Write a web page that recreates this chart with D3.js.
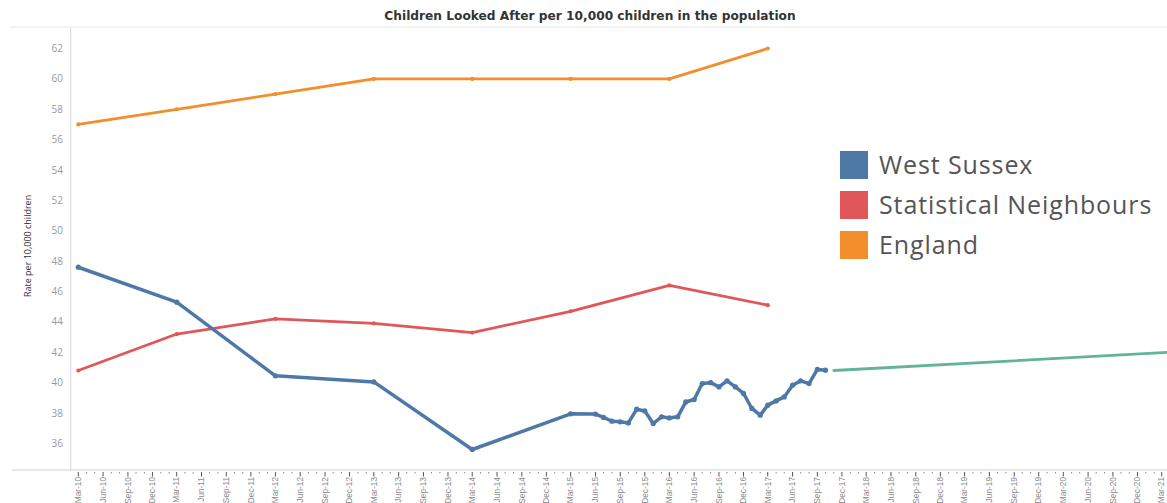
<!DOCTYPE html>
<html>
<head>
<meta charset="utf-8">
<script src="https://cdn.jsdelivr.net/npm/d3@7"></script>
<style>
  html, body { margin: 0; padding: 0; background: #fff; }
  svg { display: block; }
</style>
</head>
<body>
<svg id="chart" width="1167" height="503"></svg>
<script>
// Annual series (March of each year)
const annualDates = ["2010-03", "2011-03", "2012-03", "2013-03", "2014-03", "2015-03", "2016-03", "2017-03"];
const englandValues = [57, 58, 59, 60, 60, 60, 60, 62];
const neighbourValues = [40.8, 43.2, 44.2, 43.9, 43.3, 44.7, 46.4, 45.1];

// West Sussex: annual to 2015, monthly afterwards
const westSussexDates = [
  "2010-03", "2011-03", "2012-03", "2013-03", "2014-03", "2015-03",
  "2015-06", "2015-07", "2015-08", "2015-09", "2015-10", "2015-11", "2015-12",
  "2016-01", "2016-02", "2016-03", "2016-04", "2016-05", "2016-06",
  "2016-07", "2016-08", "2016-09", "2016-10", "2016-11", "2016-12",
  "2017-01", "2017-02", "2017-03", "2017-04", "2017-05", "2017-06",
  "2017-07", "2017-08", "2017-09", "2017-10"
];
const westSussexValues = [
  47.6, 45.3, 40.45, 40.05, 35.6, 37.95,
  37.93, 37.71, 37.46, 37.42, 37.35, 38.25, 38.14,
  37.31, 37.75, 37.68, 37.75, 38.73, 38.89,
  39.94, 40.0, 39.72, 40.12, 39.72, 39.29,
  38.3, 37.86, 38.52, 38.8, 39.06, 39.83,
  40.12, 39.94, 40.87, 40.82
];

// Trend projection
const trendDates = ["2017-11", "2021-04"];
const trendValues = [40.8, 42.0];

const legendLabels = ["West Sussex", "Statistical Neighbours", "England"];
const legendColors = ["#4e79a7", "#e15759", "#f28e2b"];
const trendColor = "#62b39c";
const yTickValues = [36, 38, 40, 42, 44, 46, 48, 50, 52, 54, 56, 58, 60, 62];

const titleText = "Children Looked After per 10,000 children in the population";
const yAxisTitle = "Rate per 10,000 children";

const parse = d3.utcParse("%Y-%m");
const fmt = d3.utcFormat("%b-%y");
const svg = d3.select("#chart");
const W = 1167, H = 503;

const x = d3.scaleUtc()
  .domain([parse("2010-03"), parse("2021-03")])
  .range([78.3, 1161.7]);
const y = d3.scaleLinear()
  .domain([34.25, 63.35])
  .range([470, 28]);

const axisLeftX = 70.7;
const axisBaseY = y.range()[0];

// Title and header rule
svg.append("text")
  .attr("x", 590).attr("y", 20)
  .attr("text-anchor", "middle")
  .style("font-family", "'DejaVu Sans', sans-serif")
  .style("font-weight", "700")
  .style("font-size", "12.2px")
  .style("fill", "#333")
  .text(titleText);
svg.append("line")
  .attr("x1", 10).attr("x2", W)
  .attr("y1", 27).attr("y2", 27)
  .style("stroke", "#e6e6e6").style("stroke-width", 1);

// Y axis
svg.append("line")
  .attr("x1", axisLeftX).attr("x2", axisLeftX)
  .attr("y1", y.range()[1]).attr("y2", axisBaseY)
  .style("stroke", "#d9d9d9");
svg.append("g").selectAll("text")
  .data(yTickValues)
  .join("text")
  .attr("x", 63).attr("y", d => y(d))
  .attr("dy", "0.35em")
  .attr("text-anchor", "end")
  .style("font-family", "'Open Sans', sans-serif")
  .style("font-size", "10px")
  .style("fill", "#9a9a9a")
  .text(d => d);
svg.append("text")
  .attr("transform", `translate(31,${y(49)}) rotate(-90)`)
  .attr("text-anchor", "middle")
  .style("font-family", "'Liberation Sans Narrow', 'Open Sans', sans-serif")
  .style("font-size", "9px")
  .style("fill", "#333")
  .text(yAxisTitle);

// X axis: rule, monthly dots, quarterly ticks and labels
svg.append("line")
  .attr("x1", 12).attr("x2", W)
  .attr("y1", axisBaseY).attr("y2", axisBaseY)
  .style("stroke", "#cfcfcf");
const monthTicks = d3.utcMonth.range(parse("2010-03"), parse("2021-04"));
const isQuarter = d => d.getUTCMonth() % 3 === 2;
svg.append("g").selectAll("line")
  .data(monthTicks)
  .join("line")
  .attr("x1", d => x(d)).attr("x2", d => x(d))
  .attr("y1", axisBaseY + 2)
  .attr("y2", d => axisBaseY + (isQuarter(d) ? 6.5 : 3.5))
  .style("stroke", d => isQuarter(d) ? "#555" : "#8a8a8a")
  .style("stroke-width", 1);
svg.append("g").selectAll("text")
  .data(monthTicks.filter(isQuarter))
  .join("text")
  .attr("transform", d => `translate(${x(d)},${axisBaseY + 7}) rotate(-90)`)
  .attr("text-anchor", "end")
  .attr("dy", "0.33em")
  .style("font-family", "'Liberation Sans Narrow', sans-serif")
  .style("font-size", "8.3px")
  .style("fill", "#8a8a8a")
  .text(d => fmt(d));

// Series
const line = d3.line().x(d => x(d.date)).y(d => y(d.value));
const zipSeries = (dates, values) => dates.map((s, i) => ({ date: parse(s), value: values[i] }));
const series = [
  { name: "England", color: legendColors[2], width: 2.8, data: zipSeries(annualDates, englandValues) },
  { name: "Statistical Neighbours", color: legendColors[1], width: 2.8, data: zipSeries(annualDates, neighbourValues) },
  { name: "West Sussex", color: legendColors[0], width: 3.5, data: zipSeries(westSussexDates, westSussexValues) },
  { name: "Trend", color: trendColor, width: 2.8, data: zipSeries(trendDates, trendValues), noDots: true }
];

svg.append("defs").append("clipPath").attr("id", "plot-clip")
  .append("rect").attr("x", axisLeftX).attr("y", y.range()[1])
  .attr("width", W - axisLeftX).attr("height", axisBaseY - y.range()[1]);

const plot = svg.append("g").attr("clip-path", "url(#plot-clip)");
series.forEach(s => {
  plot.append("path")
    .datum(s.data)
    .attr("d", line)
    .style("fill", "none")
    .style("stroke", s.color)
    .style("stroke-width", s.width)
    .style("stroke-linejoin", "round")
    .style("stroke-linecap", "round");
  if (!s.noDots) {
    plot.append("g").selectAll("circle")
      .data(s.data)
      .join("circle")
      .attr("cx", d => x(d.date)).attr("cy", d => y(d.value))
      .attr("r", s.width * 0.75)
      .style("fill", s.color);
  }
});

// Legend
const legend = svg.append("g").attr("transform", "translate(840,151)");
legend.selectAll("rect")
  .data(legendLabels)
  .join("rect")
  .attr("x", 0).attr("y", (d, i) => i * 40)
  .attr("width", 28).attr("height", 28)
  .style("fill", (d, i) => legendColors[i]);
legend.selectAll("text")
  .data(legendLabels)
  .join("text")
  .attr("x", 39).attr("y", (d, i) => i * 40 + 14)
  .attr("dy", "0.36em")
  .style("font-family", "'Open Sans', sans-serif")
  .style("font-size", "25px")
  .style("letter-spacing", "0.9px")
  .style("fill", "#555")
  .text(d => d);
</script>
</body>
</html>
